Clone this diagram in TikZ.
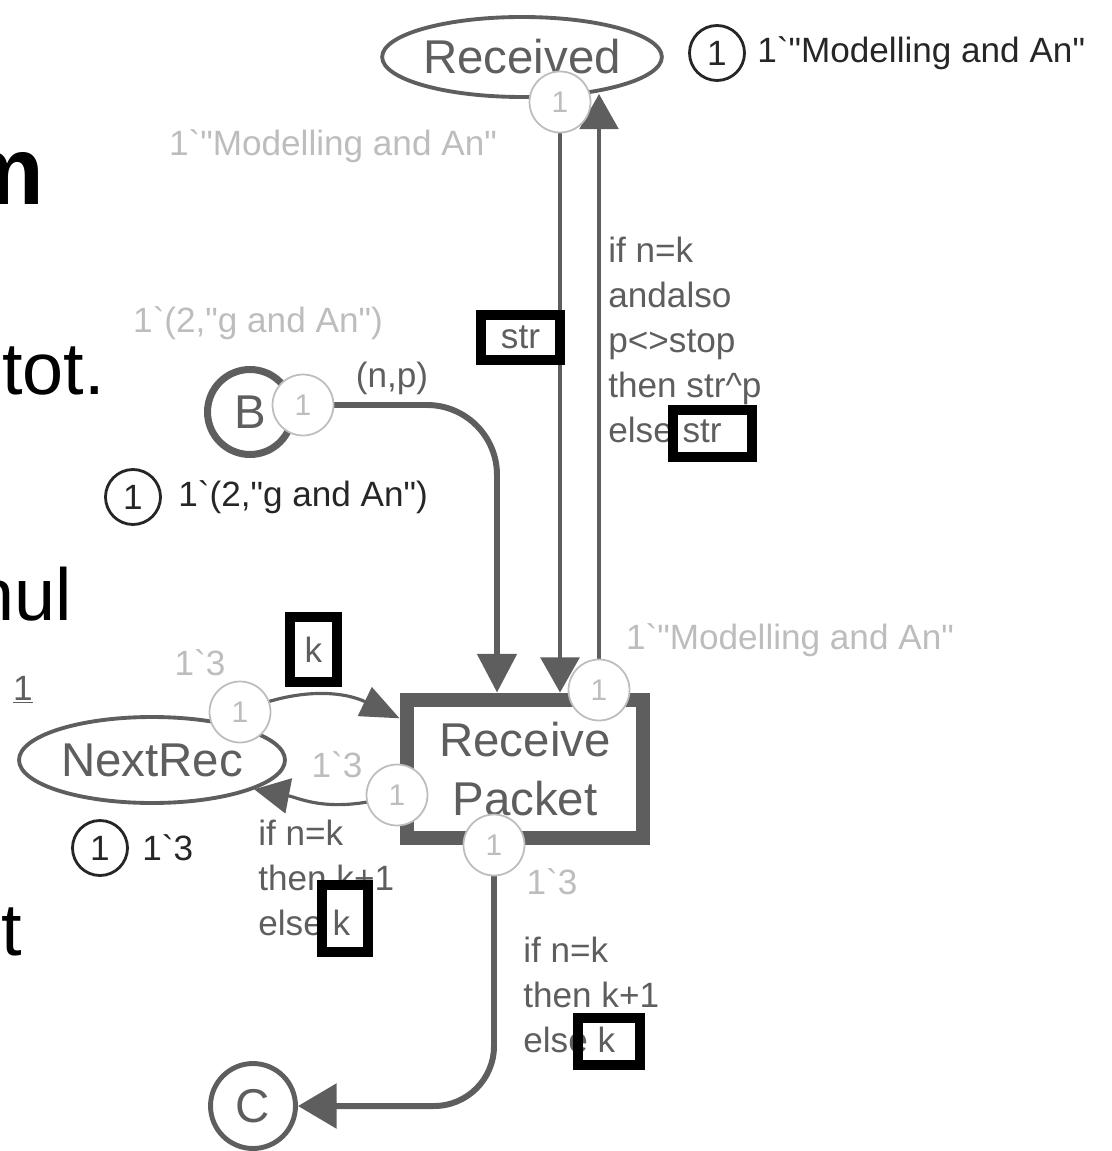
\documentclass[tikz,border=0pt]{standalone}
\usepackage{fontspec}
\setmainfont{Liberation Sans}[Ligatures=TeXOff]
\usetikzlibrary{arrows.meta,shapes.geometric}

\definecolor{netgray}{HTML}{5E5E5E}
\definecolor{tokgray}{HTML}{BDBDBD}

\begin{document}
\begin{tikzpicture}[x=0.02cm, y=-0.02cm,
    every node/.style={font=\fontsize{20}{25.6}\selectfont, text=netgray},
    place/.style={ellipse, draw=netgray, line width=2.2pt, inner sep=0pt, font=\fontsize{27}{30}\selectfont},
    smallplace/.style={circle, draw=netgray, minimum size=1.7cm, inner sep=0pt, font=\fontsize{27}{30}\selectfont},
    trans/.style={rectangle, draw=netgray, line width=8.5pt, minimum width=4.72cm, minimum height=2.76cm, align=center, font=\fontsize{27}{33.6}\selectfont},
    tok/.style={circle, draw=tokgray, line width=1pt, fill=white, minimum size=1.22cm, inner sep=0pt, text=tokgray, font=\fontsize{17}{20}\selectfont},
    markcirc/.style={circle, draw=black!85, line width=1.6pt, minimum size=1.1cm, inner sep=0pt, text=black!85},
    faint/.style={text=tokgray},
    hilite/.style={rectangle, draw=black, line width=5.7pt, inner sep=0pt},
    thickarc/.style={draw=netgray, line width=3.4pt, -{Triangle[length=22pt,width=22pt]}},
    thinarc/.style={draw=netgray, line width=2.2pt, -{Triangle[length=20pt,width=22pt]}},
    slide/.style={anchor=base east, inner sep=0pt, text=black, font=\fontsize{42}{46}\selectfont}]

    \useasboundingbox (0,0) rectangle (1111,1151);

    % slide text behind the net
    \node[slide, font=\fontsize{55}{60}\selectfont\bfseries] (sm) at (45,205) {m};
    \node[slide] (stot) at (105,395) {tot.};
    \node[slide] (snul) at (72,620) {nul};
    \node[slide] (st) at (22,955) {t};
    \node[inner sep=0pt] (sone) at (23,690) {\underline{1}};

    % places and transition
    \node[place, minimum width=5.1cm, minimum height=1.6cm] (Received) at (522,57) {Received};
    \node[place, minimum width=5.32cm, minimum height=1.72cm] (NextRec) at (152,760) {NextRec};
    \node[smallplace, line width=4pt] (B) at (250,412) {B};
    \node[smallplace, line width=2.8pt] (C) at (253,1106) {C};
    \node[trans] (RP) at (525,769) {Receive\\Packet};

    % helper points
    \coordinate (colB) at (497,0);
    \coordinate (recIn) at (599,94);

    % token bubbles (placed first, drawn later)
    \path (560,102) coordinate (recTokPos) (303,405) coordinate (bTokPos)
          (240,712) coordinate (nrTokPos) (599,690) coordinate (rpTopPos)
          (397,795) coordinate (rpLeftPos) (494,845) coordinate (rpBotPos);

    % arcs
    \draw[thinarc] (recTokPos) -- (recTokPos |- RP.north);
    \draw[thinarc] (rpTopPos) -- (recIn);
    \draw[thickarc, rounded corners=1.4cm] (bTokPos) -| (RP.north -| colB);
    \draw[draw=netgray, line width=1.8pt, -{Triangle[length=22pt,width=18pt]}]
        (nrTokPos) .. controls (300,686) and (345,692) .. (RP.158);
    \draw[draw=netgray, line width=1.8pt, -{Triangle[length=20pt,width=20pt]}]
        (rpLeftPos) .. controls (330,815) and (300,798) .. (NextRec.-16);
    \draw[thickarc, rounded corners=1.2cm, -{Triangle[length=22pt,width=25pt]}] (rpBotPos) |- (C.east);

    % token bubbles
    \node[tok] (recTok) at (recTokPos) {1};
    \node[tok] (bTok) at (bTokPos) {1};
    \node[tok] (nrTok) at (nrTokPos) {1};
    \node[tok] (rpTop) at (rpTopPos) {1};
    \node[tok] (rpLeft) at (rpLeftPos) {1};
    \node[tok] (rpBot) at (rpBotPos) {1};

    % initial markings (faint)
    \node[faint] (recInit) at (333,146) {1`"Modelling and An"};
    \node[faint] (bInit) at (258,323) {1`(2,"g and An")};
    \node[faint] (nrInit) at (200,663) {1`3};

    % current markings
    \node[markcirc] (recMark) at (717,53) {1};
    \node[anchor=west, inner sep=0pt, text=black!85] (recMarkTxt) at (757,53) {1`"Modelling and An"};
    \node[markcirc] (bMark) at (133,497) {1};
    \node[anchor=west, inner sep=0pt, text=black!85] (bMarkTxt) at (178,497) {1`(2,"g and An")};
    \node[markcirc] (nrMark) at (100,848) {1};
    \node[anchor=west, inner sep=0pt, text=black!85] (nrMarkTxt) at (142,848) {1`3};

    % binding values near the transition
    \node[faint] (rpRecVal) at (790,640) {1`"Modelling and An"};
    \node[faint] (rpNrVal) at (337,765) {1`3};
    \node[faint] (rpCVal) at (552,882) {1`3};

    % arc inscriptions
    \node (npIns) at (392,378) {(n,p)};
    \node[hilite, minimum width=1.58cm, minimum height=0.9cm] (strIns) at (520.5,337.5) {str};
    \node[anchor=west, align=left, inner sep=0pt] (recIns) at (608,340)
        {if n=k\\andalso\\p<>stop\\then str\^{}p\\else str};
    \node[hilite, minimum width=1.58cm, minimum height=0.94cm] (strBox) at (712.5,433.5) {};
    \node[hilite, minimum width=0.94cm, minimum height=1.3cm] (kIns) at (313.5,649.5) {k};
    \node[anchor=west, align=left, inner sep=0pt] (nrIns) at (258,878)
        {if n=k\\then k+1\\else k};
    \node[hilite, minimum width=0.92cm, minimum height=1.34cm] (kBox) at (345,918.5) {};
    \node[anchor=west, align=left, inner sep=0pt] (cIns) at (523,995)
        {if n=k\\then k+1\\else k};
    \node[hilite, minimum width=1.24cm, minimum height=0.94cm] (kBoxC) at (609,1041.5) {};

\end{tikzpicture}
\end{document}
